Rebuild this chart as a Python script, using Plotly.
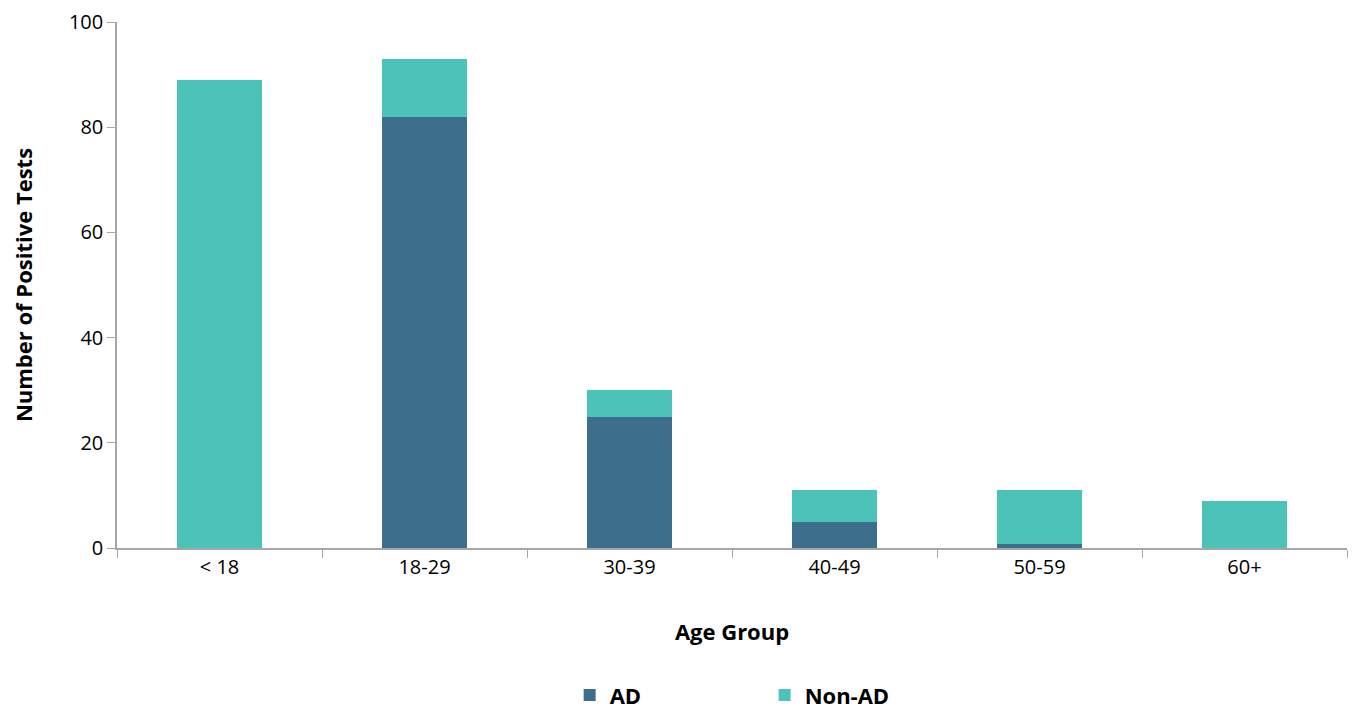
import plotly.graph_objects as go

age_groups = ["< 18", "18-29", "30-39", "40-49", "50-59", "60+"]
ad = [0, 82, 25, 5, 0.7, 0]
non_ad = [89, 11, 5, 6, 10.3, 9]

font = "Open Sans, Liberation Sans, sans-serif"

fig = go.Figure()
fig.add_trace(go.Bar(x=age_groups, y=ad, name="<b>AD</b>", marker_color="#3D6F8C",
                     marker_line_width=0, width=0.41))
fig.add_trace(go.Bar(x=age_groups, y=non_ad, name="<b>Non-AD</b>", marker_color="#4CC3B8",
                     marker_line_width=0, width=0.41))

# page body has an 8px margin, so the figure is a bit smaller than the window
fig.update_layout(
    barmode="stack",
    width=1340, height=709,
    margin=dict(l=109, r=1, t=14, b=165),
    plot_bgcolor="white", paper_bgcolor="white",
    font=dict(family=font, size=20, color="black"),
    xaxis=dict(title=dict(text="<b>Age Group</b>", font=dict(size=22), standoff=46),
               showline=True, linecolor="#A6A6A6", linewidth=1.5,
               ticks="outside", tickson="boundaries", tickcolor="#A6A6A6", ticklen=8),
    yaxis=dict(title=dict(text="<b>Number of Positive Tests</b>", font=dict(size=22), standoff=30),
               range=[0, 100], dtick=20, showgrid=False, zeroline=False,
               showline=True, linecolor="#A6A6A6", linewidth=1.5,
               ticks="outside", tickcolor="#A6A6A6", ticklen=8),
    legend=dict(orientation="h", x=0.368, xanchor="left", y=-0.28, yanchor="middle",
                traceorder="normal", font=dict(size=22),
                entrywidthmode="pixels", entrywidth=150),
)

fig.write_html("out.html")
